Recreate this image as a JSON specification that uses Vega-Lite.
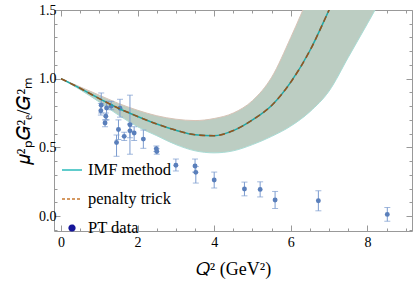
{
  "$schema": "https://vega.github.io/schema/vega-lite/v6.json",
  "width": 358,
  "height": 221,
  "autosize": {"type": "none"},
  "padding": {"left": 54, "top": 10, "right": 3, "bottom": 54},
  "background": "white",
  "config": {
    "view": {"stroke": "#999999", "strokeWidth": 1},
    "font": "Liberation Serif",
    "axis": {"domain": false, "grid": false, "tickColor": "#999999", "labelColor": "#000000", "labelFont": "Liberation Serif", "labelFontSize": 14, "titleFont": "Liberation Serif", "titleFontWeight": "normal", "titleColor": "#000000"}
  },
  "datasets": {
    "curve": [
      {"x": 0, "c": 1.0}, {"x": 0.5, "c": 0.93}, {"x": 1.0, "c": 0.855}, {"x": 1.5, "c": 0.785},
      {"x": 2.0, "c": 0.725}, {"x": 2.5, "c": 0.67}, {"x": 3.0, "c": 0.625}, {"x": 3.5, "c": 0.592},
      {"x": 4.0, "c": 0.585}, {"x": 4.5, "c": 0.622}, {"x": 5.0, "c": 0.70}, {"x": 5.5, "c": 0.805},
      {"x": 6.0, "c": 0.975}, {"x": 6.5, "c": 1.205}, {"x": 7.0, "c": 1.5}, {"x": 7.3, "c": 1.68}
    ],
    "band": [
      {"x": 0, "lo": 1.0, "hi": 1.0}, {"x": 0.5, "lo": 0.92, "hi": 0.94}, {"x": 1.0, "lo": 0.83, "hi": 0.88},
      {"x": 1.5, "lo": 0.735, "hi": 0.82}, {"x": 2.0, "lo": 0.65, "hi": 0.77}, {"x": 2.5, "lo": 0.585, "hi": 0.73},
      {"x": 3.0, "lo": 0.52, "hi": 0.705}, {"x": 3.5, "lo": 0.475, "hi": 0.695}, {"x": 4.0, "lo": 0.46, "hi": 0.71},
      {"x": 4.5, "lo": 0.475, "hi": 0.75}, {"x": 5.0, "lo": 0.52, "hi": 0.84}, {"x": 5.5, "lo": 0.58, "hi": 1.01},
      {"x": 6.0, "lo": 0.655, "hi": 1.30}, {"x": 6.5, "lo": 0.76, "hi": 1.62}, {"x": 7.0, "lo": 0.91, "hi": 1.95},
      {"x": 7.5, "lo": 1.155, "hi": 2.3}, {"x": 8.0, "lo": 1.40, "hi": 2.65}, {"x": 8.5, "lo": 1.65, "hi": 3.0}
    ],
    "pt": [
      {"x": 1.04, "y": 0.767, "lo": 0.735, "hi": 0.82},
      {"x": 1.05, "y": 0.806, "lo": 0.75, "hi": 0.896},
      {"x": 1.19, "y": 0.787, "lo": 0.70, "hi": 0.835},
      {"x": 1.17, "y": 0.726, "lo": 0.70, "hi": 0.75},
      {"x": 1.15, "y": 0.677, "lo": 0.65, "hi": 0.70},
      {"x": 1.31, "y": 0.80, "lo": 0.774, "hi": 0.835},
      {"x": 1.54, "y": 0.785, "lo": 0.72, "hi": 0.85},
      {"x": 1.50, "y": 0.63, "lo": 0.557, "hi": 0.70},
      {"x": 1.45, "y": 0.535, "lo": 0.435, "hi": 0.59},
      {"x": 1.65, "y": 0.58, "lo": 0.55, "hi": 0.61},
      {"x": 1.80, "y": 0.665, "lo": 0.45, "hi": 0.88},
      {"x": 1.80, "y": 0.62, "lo": 0.57, "hi": 0.67},
      {"x": 1.91, "y": 0.605, "lo": 0.55, "hi": 0.65},
      {"x": 2.15, "y": 0.56, "lo": 0.493, "hi": 0.626},
      {"x": 2.49, "y": 0.49, "lo": 0.47, "hi": 0.51},
      {"x": 2.50, "y": 0.47, "lo": 0.45, "hi": 0.49},
      {"x": 3.0, "y": 0.37, "lo": 0.328, "hi": 0.415},
      {"x": 3.5, "y": 0.364, "lo": 0.32, "hi": 0.415},
      {"x": 3.52, "y": 0.318, "lo": 0.24, "hi": 0.36},
      {"x": 4.0, "y": 0.262, "lo": 0.204, "hi": 0.32},
      {"x": 4.79, "y": 0.197, "lo": 0.147, "hi": 0.247},
      {"x": 5.2, "y": 0.194, "lo": 0.139, "hi": 0.249},
      {"x": 5.59, "y": 0.117, "lo": 0.055, "hi": 0.179},
      {"x": 6.72, "y": 0.111, "lo": 0.038, "hi": 0.184},
      {"x": 8.52, "y": 0.012, "lo": -0.038, "hi": 0.062}
    ],
    "legend": [
      {"series": "IMF method"}, {"series": "penalty trick"}, {"series": "PT data"}
    ]
  },
  "layer": [
    {
      "data": {"name": "band"},
      "mark": {"type": "area", "color": "#bccdc2", "interpolate": "monotone", "clip": true},
      "encoding": {
        "x": {"field": "x", "type": "quantitative", "scale": {"domain": [-0.183, 9.165], "nice": false, "zero": false},
          "axis": {"orient": "bottom", "values": [0,0.5,1,1.5,2,2.5,3,3.5,4,4.5,5,5.5,6,6.5,7,7.5,8,8.5,9],
            "labelExpr": "datum.value % 2 === 0 ? format(datum.value, 'd') : ''",
            "tickSize": {"condition": {"test": "datum.value % 2 === 0", "value": -6}, "value": -3},
            "labelPadding": 10, "title": "𝑄² (GeV²)", "titleFontSize": 18, "titlePadding": 11}},
        "y": {"field": "lo", "type": "quantitative", "scale": {"domain": [-0.109, 1.5], "nice": false, "zero": false},
          "axis": {"orient": "left", "values": [-0.1,0,0.1,0.2,0.3,0.4,0.5,0.6,0.7,0.8,0.9,1.0,1.1,1.2,1.3,1.4,1.5],
            "labelExpr": "round(datum.value*10) % 5 === 0 ? format(datum.value, '.1f') : ''",
            "tickSize": {"condition": {"test": "round(datum.value*10) % 5 === 0", "value": -6}, "value": -3},
            "labelPadding": 4, "title": "𝜇²ₚ𝐺²ₑ/𝐺²ₘ", "titleFontSize": 19, "titlePadding": 5}},
        "y2": {"field": "hi"}
      }
    },
    {
      "data": {"name": "band"},
      "mark": {"type": "line", "color": "#d8c3b6", "strokeWidth": 1, "interpolate": "monotone", "clip": true},
      "encoding": {
        "x": {"field": "x", "type": "quantitative", "axis": null},
        "y": {"field": "hi", "type": "quantitative", "axis": null}
      }
    },
    {
      "data": {"name": "band"},
      "mark": {"type": "line", "color": "#a9dcd5", "strokeWidth": 1, "interpolate": "monotone", "clip": true},
      "encoding": {
        "x": {"field": "x", "type": "quantitative", "axis": null},
        "y": {"field": "lo", "type": "quantitative", "axis": null}
      }
    },
    {
      "data": {"name": "pt"},
      "mark": {"type": "errorbar", "color": "#7b9bcf", "ticks": {"size": 6, "color": "#7b9bcf"}},
      "encoding": {
        "x": {"field": "x", "type": "quantitative", "axis": null},
        "y": {"field": "lo", "type": "quantitative", "axis": null},
        "y2": {"field": "hi"}
      }
    },
    {
      "data": {"name": "pt"},
      "mark": {"type": "point", "filled": true, "color": "#5a7fbb", "opacity": 1, "size": 24},
      "encoding": {
        "x": {"field": "x", "type": "quantitative", "axis": null},
        "y": {"field": "y", "type": "quantitative", "axis": null}
      }
    },
    {
      "data": {"name": "curve"},
      "mark": {"type": "line", "color": "#1fa8a6", "strokeWidth": 1.5, "interpolate": "monotone", "clip": true},
      "encoding": {
        "x": {"field": "x", "type": "quantitative",
          "axis": {"orient": "top", "values": [0,0.5,1,1.5,2,2.5,3,3.5,4,4.5,5,5.5,6,6.5,7,7.5,8,8.5,9], "labels": false, "title": null,
            "tickSize": {"condition": {"test": "datum.value % 2 === 0", "value": -6}, "value": -3}}},
        "y": {"field": "c", "type": "quantitative",
          "axis": {"orient": "right", "values": [-0.1,0,0.1,0.2,0.3,0.4,0.5,0.6,0.7,0.8,0.9,1.0,1.1,1.2,1.3,1.4,1.5], "labels": false, "title": null,
            "tickSize": {"condition": {"test": "round(datum.value*10) % 5 === 0", "value": -6}, "value": -3}}}
      }
    },
    {
      "data": {"name": "curve"},
      "mark": {"type": "line", "color": "#93541f", "strokeWidth": 1.6, "strokeDash": [6, 4], "interpolate": "monotone", "clip": true},
      "encoding": {
        "x": {"field": "x", "type": "quantitative", "axis": null},
        "y": {"field": "c", "type": "quantitative", "axis": null}
      }
    },
    {
      "mark": {"type": "rule", "color": "#dddddd", "strokeWidth": 1},
      "encoding": {"y": {"datum": 0, "type": "quantitative", "axis": null}}
    },
    {
      "mark": {"type": "text", "text": "(b)", "font": "Liberation Serif", "fontSize": 17, "color": "#000000"},
      "encoding": {
        "x": {"datum": 8.6, "type": "quantitative", "axis": null},
        "y": {"datum": 1.33, "type": "quantitative", "axis": null}
      }
    },
    {
      "data": {"name": "legend"},
      "mark": {"type": "point", "filled": true, "opacity": 0},
      "encoding": {
        "color": {"field": "series", "type": "nominal",
          "scale": {"domain": ["IMF method", "penalty trick", "PT data"], "range": ["#2cbcbc", "#c8782f", "#16169a"]},
          "legend": {"orient": "none", "legendX": 7, "legendY": 149, "title": null, "padding": 0,
            "labelFont": "Liberation Serif", "labelFontSize": 16.5, "labelColor": "#000000", "labelOffset": 5,
            "symbolSize": 400, "symbolOpacity": 1, "symbolStrokeWidth": 1.6, "rowPadding": 9,
            "encode": {"symbols": {"update": {
              "stroke": {"scale": "color", "field": "value"},
              "strokeDash": {"signal": "datum.value === 'penalty trick' ? [3, 2] : [1, 0]"}
            }}}}},
        "shape": {"field": "series", "type": "nominal",
          "scale": {"domain": ["IMF method", "penalty trick", "PT data"],
            "range": ["M-1,0L1,0", "M-1,0L1,0", "M-0.28,0A0.28,0.28 0 1,0 0.28,0A0.28,0.28 0 1,0 -0.28,0Z"]}}
      }
    }
  ]
}
